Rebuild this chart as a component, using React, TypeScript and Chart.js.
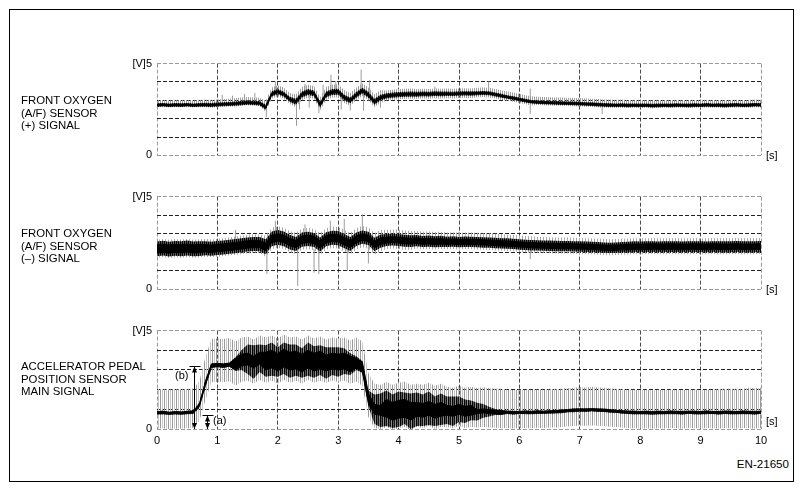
import React, { useEffect, useRef } from 'react';
import { Chart, registerables } from 'chart.js';

Chart.register(...registerables);
Chart.defaults.font.family = "'Liberation Sans', Arial, Helvetica, sans-serif";
Chart.defaults.font.size = 11;
Chart.defaults.color = '#000';

// ---------- data (volts, sampled every 0.1 s from 0 to 10 s) ----------
const SAMPLE_STEP = 0.1;
const X_MIN = 0;
const X_MAX = 10;
const Y_MIN = 0;
const Y_MAX = 5;
const xTickValues = [0, 1, 2, 3, 4, 5, 6, 7, 8, 9, 10];
const yTopLabel = '[V]5';
const yZeroLabel = '0';

// Front oxygen (A/F) sensor (+) signal: centre of the dense trace
const p1Mid = [
  2.74, 2.76, 2.73, 2.75, 2.74, 2.76, 2.73, 2.75, 2.76, 2.74, 2.77,
  2.79, 2.8, 2.82, 2.85, 2.88, 2.86, 2.84, 2.62,
  3.35, 3.47, 3.33, 3.05, 2.92, 3.32, 3.45, 3.38, 2.76, 3.32, 3.45, 3.47, 3.15, 3.0, 3.3, 3.53, 3.3, 2.92, 3.15, 3.24, 3.28, 3.31,
  3.33, 3.34, 3.33, 3.35, 3.34, 3.36, 3.35, 3.36, 3.35, 3.37,
  3.38, 3.37, 3.39, 3.4, 3.38, 3.32, 3.25, 3.18, 3.12, 3.05,
  2.98, 2.92, 2.9, 2.88, 2.87, 2.86, 2.85, 2.84, 2.83, 2.82,
  2.8, 2.79, 2.77, 2.75, 2.74, 2.73, 2.74, 2.72, 2.73, 2.72,
  2.73, 2.71, 2.72, 2.73, 2.72, 2.74, 2.73, 2.72, 2.74, 2.73,
  2.75, 2.73, 2.74, 2.72, 2.74, 2.75, 2.73, 2.74, 2.76, 2.75,
];
// half thickness of the solid core, of the dense dark band, and extent of the grey fuzz (every 0.5 s)
const p1Inner = [0.04, 0.04, 0.04, 0.04, 0.05, 0.06, 0.06, 0.06, 0.05, 0.05, 0.04, 0.04, 0.04, 0.04, 0.04, 0.04, 0.04, 0.04, 0.04, 0.04, 0.04];
const p1Half = [0.1, 0.1, 0.11, 0.12, 0.14, 0.16, 0.16, 0.16, 0.14, 0.13, 0.12, 0.11, 0.1, 0.1, 0.1, 0.1, 0.1, 0.1, 0.1, 0.1, 0.1];
const p1HaloUp = [0.26, 0.26, 0.28, 0.3, 0.35, 0.4, 0.4, 0.4, 0.3, 0.28, 0.28, 0.3, 0.3, 0.3, 0.3, 0.3, 0.28, 0.28, 0.28, 0.28, 0.28];
const p1HaloDown = [0.12, 0.12, 0.14, 0.15, 0.25, 0.3, 0.3, 0.3, 0.25, 0.25, 0.25, 0.22, 0.2, 0.15, 0.15, 0.15, 0.14, 0.14, 0.14, 0.14, 0.14];
// isolated grey spikes
const p1SpikeT = [1.08, 1.25, 1.45, 1.62, 1.81, 1.96, 2.31, 2.36, 2.45, 2.52, 2.68, 2.75, 2.88, 2.96, 3.05, 3.2, 3.38, 3.42, 3.52, 3.7, 4.6, 5.49, 6.18, 7.37];
const p1SpikeLo = [2.8, 2.85, 2.85, 2.8, 2.09, 3.3, 1.61, 2.5, 3.3, 2.6, 2.3, 3.3, 3.3, 3.3, 2.5, 2.45, 3.4, 2.43, 3.3, 2.6, 3.3, 3.3, 2.26, 2.26];
const p1SpikeHi = [3.3, 3.25, 3.35, 3.4, 2.8, 4.03, 3.0, 3.2, 3.9, 3.3, 2.9, 3.85, 4.4, 4.05, 3.4, 3.0, 4.68, 3.5, 4.1, 3.2, 3.75, 4.03, 3.64, 2.9];

// Front oxygen (A/F) sensor (–) signal
const p2Mid = [
  2.18, 2.22, 2.17, 2.21, 2.19, 2.23, 2.18, 2.2, 2.22, 2.19, 2.23,
  2.26, 2.3, 2.33, 2.38, 2.42, 2.45, 2.44,
  2.3,
  2.72, 2.8, 2.72, 2.55, 2.45, 2.68, 2.72, 2.66, 2.42, 2.7, 2.78, 2.76, 2.6, 2.45, 2.7, 2.82, 2.75, 2.42, 2.6, 2.66, 2.68, 2.66,
  2.62, 2.6, 2.63, 2.58, 2.6, 2.57, 2.59, 2.56, 2.58, 2.55, 2.57, 2.56, 2.55, 2.53, 2.52,
  2.5, 2.48, 2.47, 2.45, 2.42, 2.4, 2.38, 2.37, 2.36, 2.35,
  2.34, 2.33, 2.33, 2.32, 2.31, 2.3, 2.29, 2.27, 2.25, 2.24,
  2.25, 2.27, 2.28, 2.3, 2.29, 2.3, 2.31, 2.29, 2.3, 2.31, 2.3, 2.29, 2.3, 2.31, 2.3, 2.29, 2.31, 2.3, 2.29, 2.3, 2.31, 2.3, 2.29, 2.3, 2.31,
];
const p2Inner = [0.22, 0.22, 0.2, 0.2, 0.2, 0.2, 0.2, 0.18, 0.16, 0.15, 0.14, 0.14, 0.14, 0.14, 0.14, 0.14, 0.15, 0.15, 0.15, 0.15, 0.15];
const p2Half = [0.4, 0.4, 0.38, 0.38, 0.4, 0.38, 0.38, 0.36, 0.32, 0.3, 0.28, 0.28, 0.28, 0.28, 0.28, 0.28, 0.29, 0.29, 0.29, 0.3, 0.3];
const p2HaloUp = [0.5, 0.5, 0.5, 0.52, 0.6, 0.6, 0.6, 0.6, 0.55, 0.52, 0.5, 0.5, 0.48, 0.46, 0.46, 0.46, 0.46, 0.46, 0.46, 0.46, 0.46];
const p2HaloDown = [0.48, 0.48, 0.46, 0.48, 0.55, 0.55, 0.55, 0.55, 0.48, 0.42, 0.4, 0.4, 0.4, 0.4, 0.4, 0.4, 0.4, 0.4, 0.4, 0.4, 0.4];
const p2SpikeT = [1.3, 1.82, 1.96, 2.33, 2.45, 2.6, 2.68, 2.87, 3.1, 3.15, 3.4, 3.5, 5.0, 6.18];
const p2SpikeLo = [2.3, 0.83, 2.5, 0.19, 2.5, 0.9, 0.83, 2.6, 2.6, 1.0, 2.6, 1.4, 2.4, 1.63];
const p2SpikeHi = [3.2, 2.2, 3.7, 2.3, 3.5, 2.2, 2.3, 3.7, 3.8, 2.3, 4.04, 2.4, 3.1, 2.3];

// Accelerator pedal position sensor main signal
const p3Mid = [
  0.82, 0.84, 0.8, 0.83, 0.81, 0.84, 0.86, 1.2, 2.3, 3.22,
  3.25, 3.22, 3.27, 3.3, 3.5,
  3.55, 3.4, 3.6, 3.45, 3.55, 3.4, 3.6, 3.45, 3.5, 3.35, 3.55, 3.4, 3.5, 3.35, 3.45, 3.4, 3.45, 3.3, 3.35,
  3.15, 1.55, 1.0,
  0.95, 1.05, 0.9, 1.0, 1.05, 0.9, 1.0, 0.95, 1.05, 0.9, 1.0, 0.95, 0.9, 1.0, 0.9, 0.95, 0.88, 0.92, 0.88,
  0.86, 0.84, 0.85, 0.83, 0.84, 0.85, 0.84, 0.86, 0.85, 0.87, 0.88, 0.9, 0.93, 0.95, 0.97, 0.96, 0.98, 0.96, 0.95, 0.92,
  0.9, 0.87, 0.85, 0.84, 0.83, 0.84, 0.82, 0.84, 0.83, 0.85, 0.84, 0.83, 0.85, 0.84, 0.83, 0.85, 0.84, 0.83, 0.85, 0.84,
  0.83, 0.85, 0.84, 0.83, 0.85,
];
// solid core half thickness (every 0.5 s)
const p3Inner = [0.05, 0.05, 0.08, 0.3, 0.45, 0.45, 0.4, 0.25, 0.45, 0.35, 0.25, 0.1, 0.05, 0.05, 0.05, 0.05, 0.05, 0.05, 0.05, 0.05, 0.05];
// dense dark band half thickness (every 0.1 s)
const p3Half = [
  0.08, 0.1, 0.07, 0.09, 0.08, 0.09, 0.1, 0.15, 0.2, 0.12,
  0.1, 0.12, 0.1, 0.35, 0.5,
  0.75, 0.85, 0.7, 0.8, 0.85, 0.75, 0.8, 0.85, 0.8, 0.75, 0.85, 0.8, 0.75, 0.8, 0.7, 0.75, 0.65, 0.55, 0.35,
  0.3, 0.4, 0.75,
  0.85, 0.9, 0.85, 0.9, 0.8, 0.9, 0.85, 0.8, 0.85, 0.75, 0.8, 0.7, 0.75, 0.65, 0.6, 0.5, 0.45, 0.35, 0.25,
  0.15, 0.1, 0.09, 0.1, 0.08, 0.1, 0.09, 0.1, 0.08, 0.1, 0.09, 0.1, 0.08, 0.1, 0.09, 0.1, 0.08, 0.1, 0.09, 0.1,
  0.08, 0.1, 0.09, 0.1, 0.08, 0.1, 0.09, 0.1, 0.08, 0.1, 0.09, 0.1, 0.08, 0.1, 0.09, 0.1, 0.08, 0.1, 0.09, 0.1,
  0.08, 0.1, 0.09, 0.1, 0.08,
];
const p3HaloUp = [1.2, 1.2, 1.35, 1.15, 1.2, 1.2, 1.2, 1.3, 1.35, 1.3, 1.2, 1.2, 1.15, 1.15, 1.15, 1.15, 1.15, 1.15, 1.15, 1.2, 1.25];
const p3HaloDown = [0.8, 0.8, 0.85, 1.1, 1.1, 1.05, 1.0, 0.95, 0.95, 0.9, 0.85, 0.8, 0.8, 0.8, 0.8, 0.8, 0.8, 0.8, 0.8, 0.8, 0.8];
const p3SpikeT: number[] = [];
const p3SpikeLo: number[] = [];
const p3SpikeHi: number[] = [];

// (a) / (b) markers on the pedal signal
const markTimes = [0.606, 0.83];
const markLevels = [3.2, 0.73];

// ---------- layout & style ----------
const PAGE_W = 803;
const PAGE_H = 491;
const PLOT_LEFT = 157;
const PLOT_RIGHT = 761;
const PAD_TOP = 8;

type Spec = {
  mid: number[]; inner: number[]; half: number[]; haloUp: number[]; haloDown: number[];
  spikeT: number[]; spikeLo: number[]; spikeHi: number[];
  top: number; bottom: number; bottomSpace: number; showX: boolean;
  haloCols: (string | null)[]; outerCols: (string | null)[]; marks: boolean;
};

const specs: Spec[] = [
  { mid: p1Mid, inner: p1Inner, half: p1Half, haloUp: p1HaloUp, haloDown: p1HaloDown, spikeT: p1SpikeT, spikeLo: p1SpikeLo, spikeHi: p1SpikeHi,
    top: 60, bottom: 163, bottomSpace: 4, showX: false, haloCols: ['#a0a0a0', null], outerCols: ['#000', '#707070'], marks: false },
  { mid: p2Mid, inner: p2Inner, half: p2Half, haloUp: p2HaloUp, haloDown: p2HaloDown, spikeT: p2SpikeT, spikeLo: p2SpikeLo, spikeHi: p2SpikeHi,
    top: 193, bottom: 297, bottomSpace: 4, showX: false, haloCols: ['#a8a8a8', null, null], outerCols: ['#000', '#5a5a5a'], marks: false },
  { mid: p3Mid, inner: p3Inner, half: p3Half, haloUp: p3HaloUp, haloDown: p3HaloDown, spikeT: p3SpikeT, spikeLo: p3SpikeLo, spikeHi: p3SpikeHi,
    top: 327, bottom: 429, bottomSpace: 22, showX: true, haloCols: ['#999999', null, '#c8c8c8', null], outerCols: ['#000', '#555555', '#111', '#8a8a8a'], marks: true },
];

const sideLabels = [
  { top: 94, lines: ['FRONT OXYGEN', '(A/F) SENSOR', '(+) SIGNAL'] },
  { top: 227, lines: ['FRONT OXYGEN', '(A/F) SENSOR', '(–) SIGNAL'] },
  { top: 360, lines: ['ACCELERATOR PEDAL', 'POSITION SENSOR', 'MAIN SIGNAL'] },
];

function at(arr: number[], t: number): number {
  const step = (X_MAX - X_MIN) / (arr.length - 1);
  const idx = Math.min(arr.length - 1, Math.max(0, Math.round((t - X_MIN) / step)));
  return arr[idx];
}

function makePattern(target: HTMLCanvasElement, cols: (string | null)[]) {
  const pc = document.createElement('canvas');
  pc.width = cols.length;
  pc.height = 1;
  const pctx = pc.getContext('2d')!;
  cols.forEach((c, i) => {
    if (c) {
      pctx.fillStyle = c;
      pctx.fillRect(i, 0, 1, 1);
    }
  });
  return target.getContext('2d')!.createPattern(pc, 'repeat');
}

const markPlugin = {
  id: 'pedalMarks',
  afterDatasetsDraw(chart: any) {
    const { ctx, scales } = chart;
    const x = scales.x;
    const y = scales.y;
    ctx.save();
    ctx.strokeStyle = '#000';
    ctx.fillStyle = '#000';
    ctx.lineWidth = 1;
    markTimes.forEach((t, i) => {
      const px = Math.round(x.getPixelForValue(t)) + 0.5;
      const y0 = y.getPixelForValue(0);
      const y1 = Math.round(y.getPixelForValue(markLevels[i])) + 0.5;
      ctx.beginPath();
      ctx.moveTo(px, y1);
      ctx.lineTo(px, y0);
      ctx.moveTo(px - 5, y1);
      ctx.lineTo(px + 6, y1);
      ctx.stroke();
      ctx.beginPath();
      ctx.moveTo(px, y1);
      ctx.lineTo(px - 2.5, y1 + 6);
      ctx.lineTo(px + 2.5, y1 + 6);
      ctx.closePath();
      ctx.fill();
      ctx.beginPath();
      ctx.moveTo(px, y0);
      ctx.lineTo(px - 2.5, y0 - 6);
      ctx.lineTo(px + 2.5, y0 - 6);
      ctx.closePath();
      ctx.fill();
    });
    ctx.restore();
  },
};

function Panel({ spec }: { spec: Spec }) {
  const ref = useRef<HTMLCanvasElement>(null);
  const h = PAD_TOP + (spec.bottom - spec.top) + spec.bottomSpace;
  useEffect(() => {
    const canvas = ref.current!;
    const haloPattern = makePattern(canvas, spec.haloCols);
    const outerPattern = makePattern(canvas, spec.outerCols);

    const times = spec.mid.map((_, i) => +(X_MIN + i * SAMPLE_STEP).toFixed(2));
    const band = (up: number[], down: number[], sign: number) =>
      spec.mid.map((m, i) => ({ x: times[i], y: sign > 0 ? m + at(up, times[i]) : m - at(down, times[i]) }));
    const innerHi = band(spec.inner, spec.inner, 1);
    const innerLo = band(spec.inner, spec.inner, -1);
    const outerHi = band(spec.half, spec.half, 1);
    const outerLo = band(spec.half, spec.half, -1);
    const haloHi = band(spec.haloUp, spec.haloDown, 1);
    const haloLo = band(spec.haloUp, spec.haloDown, -1);
    const spikes = spec.spikeT.flatMap((t, i) => [
      { x: t, y: spec.spikeLo[i] },
      { x: t, y: spec.spikeHi[i] },
      { x: t, y: null as any },
    ]);

    const gridColor = (edgeA: number, edgeB: number, inner: string) => (ctx: any) => {
      const v = ctx.tick ? ctx.tick.value : 0;
      return v === edgeA || v === edgeB ? '#9a9a9a' : inner;
    };
    const none = 'rgba(0,0,0,0)';

    const chart = new Chart(canvas, {
      type: 'line',
      data: {
        datasets: [
          { data: haloHi, borderWidth: 0, borderColor: none, pointRadius: 0, fill: false, order: 4 },
          { data: haloLo, borderWidth: 0, borderColor: none, pointRadius: 0, fill: '-1', backgroundColor: haloPattern as any, order: 4 },
          { data: spikes, borderWidth: 1, borderColor: '#9c9c9c', pointRadius: 0, fill: false, spanGaps: false, order: 3 },
          { data: outerHi, borderWidth: 0, borderColor: none, pointRadius: 0, fill: false, order: 2 },
          { data: outerLo, borderWidth: 0, borderColor: none, pointRadius: 0, fill: '-1', backgroundColor: outerPattern as any, order: 2 },
          { data: innerHi, borderWidth: 1, borderColor: '#000', pointRadius: 0, fill: false, order: 1 },
          { data: innerLo, borderWidth: 1, borderColor: '#000', pointRadius: 0, fill: '-1', backgroundColor: '#000', order: 1 },
        ] as any,
      },
      options: {
        responsive: false,
        animation: false,
        devicePixelRatio: 1,
        layout: { padding: { top: PAD_TOP, right: PAGE_W - PLOT_RIGHT, left: 0, bottom: 0 } },
        elements: { line: { tension: 0 } },
        plugins: { legend: { display: false }, tooltip: { enabled: false } },
        scales: {
          x: {
            type: 'linear',
            min: X_MIN,
            max: X_MAX,
            afterBuildTicks: (s: any) => { s.ticks = xTickValues.map((v) => ({ value: v })); },
            ticks: { display: spec.showX, padding: 5, maxRotation: 0, autoSkip: false, color: '#000', font: { size: 11 } },
            grid: { drawTicks: false, color: gridColor(X_MIN, X_MAX, '#4a4a4a'), lineWidth: 1 },
            border: { display: false, dash: [4, 2] },
            afterFit: (s: any) => { s.height = spec.bottomSpace; },
          },
          y: {
            min: Y_MIN,
            max: Y_MAX,
            ticks: {
              stepSize: 1,
              padding: 5,
              color: '#000',
              font: { size: 11 },
              callback: (v: any) => (v === Y_MAX ? yTopLabel : v === Y_MIN ? yZeroLabel : ''),
            },
            grid: { drawTicks: false, color: gridColor(Y_MIN, Y_MAX, '#222'), lineWidth: 1 },
            border: { display: false, dash: [4, 2] },
            afterFit: (s: any) => { s.width = PLOT_LEFT; },
          },
        },
      } as any,
      plugins: spec.marks ? [markPlugin as any] : [],
    });
    return () => chart.destroy();
  }, []);
  return (
    <canvas
      ref={ref}
      width={PAGE_W}
      height={h}
      style={{ position: 'absolute', left: 0, top: spec.top - PAD_TOP, width: PAGE_W, height: h, display: 'block' }}
    />
  );
}

const textBase: React.CSSProperties = {
  position: 'absolute',
  fontFamily: "'Liberation Sans', Arial, Helvetica, sans-serif",
  fontSize: 11.4,
  lineHeight: '12.5px',
  color: '#000',
  whiteSpace: 'pre',
};

export default function App() {
  return (
    <div style={{ position: 'fixed', left: 0, top: 0, width: PAGE_W, height: PAGE_H, background: '#fff', overflow: 'hidden' }}>
      <div style={{ position: 'absolute', left: 9, top: 9, width: 785, height: 473, border: '1px solid #000', boxSizing: 'border-box' }} />
      {specs.map((s, i) => <Panel key={i} spec={s} />)}
      {sideLabels.map((l, i) => (
        <div key={i} style={{ ...textBase, left: 21, top: l.top }}>
          {l.lines.join('\n')}
        </div>
      ))}
      {specs.map((s, i) => (
        <div key={'s' + i} style={{ ...textBase, fontSize: 11, left: 766, top: s.bottom - 14 }}>[s]</div>
      ))}
      <div style={{ ...textBase, fontSize: 11, left: 175, top: 369 }}>(b)</div>
      <div style={{ ...textBase, fontSize: 11, left: 213, top: 414 }}>(a)</div>
      <div style={{ ...textBase, fontSize: 11.6, right: PAGE_W - 789, top: 458 }}>EN-21650</div>
    </div>
  );
}
